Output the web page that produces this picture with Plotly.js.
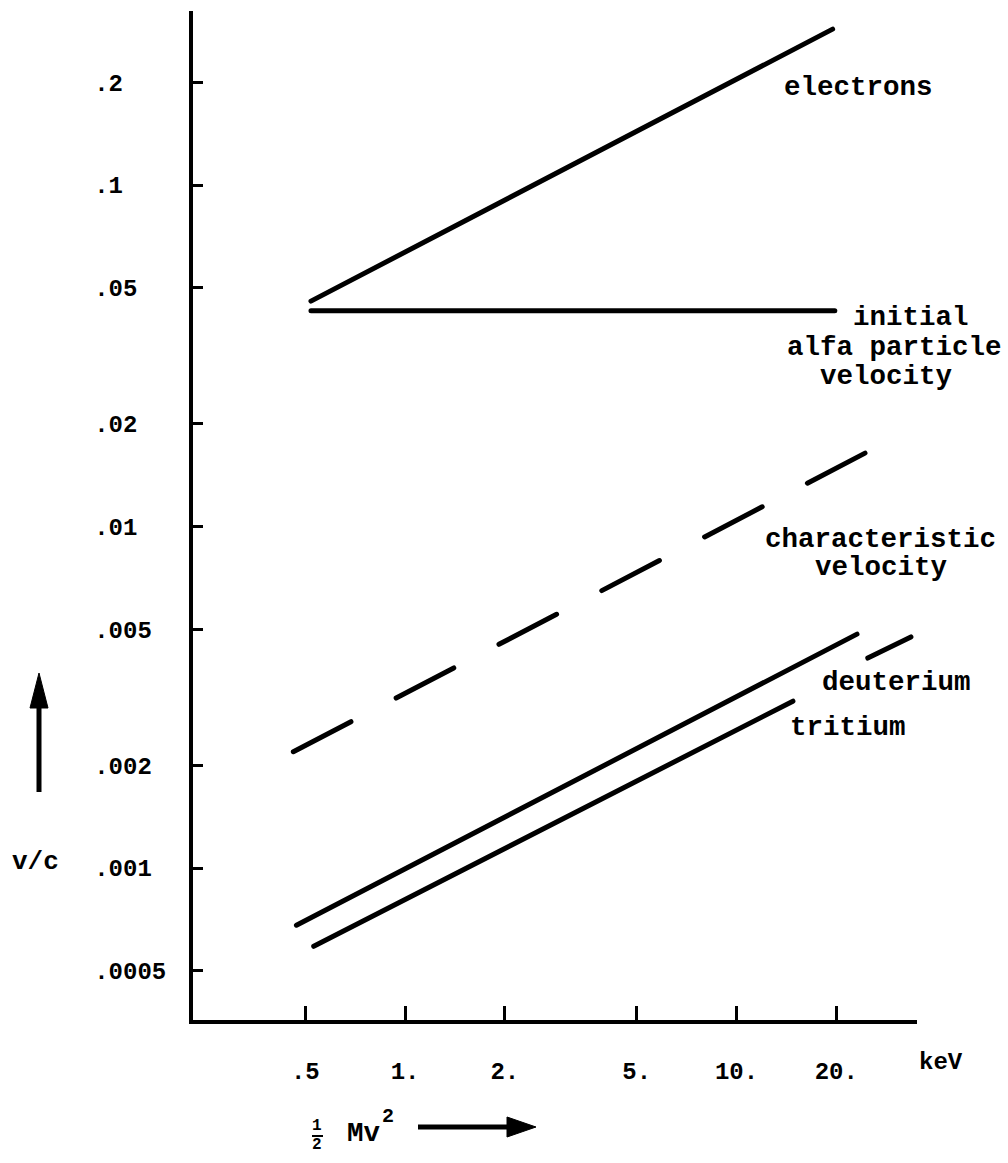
<!DOCTYPE html>
<html>
<head>
<meta charset="utf-8">
<script src="https://cdn.plot.ly/plotly-3.0.1.min.js"></script>
<style>
  html, body { margin: 0; padding: 0; background: #ffffff; }
  #chart { width: 1008px; height: 1163px; }
  #chart path.js-line { stroke-linecap: round; }
</style>
</head>
<body>
<div id="chart"></div>
<script>
// ---- data (x = 1/2 Mv^2 in keV, y = v/c) ----
const energyElectrons = [0.52, 19.5];
const vcElectrons = [0.0457, 0.286];

const energyAlpha = [0.52, 19.8];
const vcAlpha = [0.0428, 0.0428];

const energyCharacteristic = [0.46, 25.6];
const vcCharacteristic = [0.00219, 0.0168];

const energyDeuterium = [0.47, 23.1];
const vcDeuterium = [0.00068, 0.00484];

const energyTritium = [0.53, 14.8, null, 24.9, 33.6];
const vcTritium = [0.00059, 0.00308, null, 0.00412, 0.00475];

const yTickVals = [0.0005, 0.001, 0.002, 0.005, 0.01, 0.02, 0.05, 0.1, 0.2];
const yTickText = [".0005", ".001", ".002", ".005", ".01", ".02", ".05", ".1", ".2"];
const xTickVals = [0.5, 1, 2, 5, 10, 20];
const xTickText = [".5", "1.", "2.", "5.", "10.", "20."];

// ---- presentation ----
const FONT = '"Liberation Mono", "DejaVu Sans Mono", monospace';
const W = 1008, H = 1163;
const L = 193, R = 917, T = 11, B = 1020;       // plot area in pixels
const px = x => (x - L) / (R - L);
const py = y => (B - y) / (B - T);

const maxLen = Math.max(...yTickText.map(s => s.length));
const yTickTextPadded = yTickText.map(s => s + '\u00a0'.repeat(maxLen - s.length));

const lineStyle = { color: '#000000', width: 5 };
function trace(xs, ys, dash) {
  return { x: xs, y: ys, type: 'scatter', mode: 'lines', hoverinfo: 'skip',
           line: Object.assign({}, lineStyle, dash ? { dash: dash } : {}),
           connectgaps: false, showlegend: false };
}

const data = [
  trace(energyElectrons, vcElectrons),
  trace(energyAlpha, vcAlpha),
  trace(energyCharacteristic, vcCharacteristic, '65px,51px'),
  trace(energyDeuterium, vcDeuterium),
  trace(energyTritium, vcTritium)
];

function ann(text, x, y, size, xanchor) {
  return { text: text, xref: 'paper', yref: 'paper', x: px(x), y: py(y),
           xanchor: xanchor || 'left', yanchor: 'middle', showarrow: false,
           font: { family: FONT, size: size || 27.5, color: '#000', weight: 'bold' } };
}

const annotations = [
  ann('electrons', 782, 87),
  ann('initial', 851, 317),
  ann('alfa particle', 785, 347),
  ann('velocity', 818, 376),
  ann('characteristic', 763, 539),
  ann('velocity', 813, 568),
  ann('deuterium', 820, 682),
  ann('tritium', 788, 727),
  ann('keV', 917, 1062, 24),
  ann('v/c', 10, 862, 26),
  ann('1', 317, 1126, 16, 'center'),
  ann('2', 317, 1145, 16, 'center'),
  ann('Mv', 345, 1133, 27.5),
  ann('2', 388, 1116, 20, 'center')
];

function pathPx(points) {
  return 'M' + points.map(p => px(p[0]) + ',' + py(p[1])).join('L') + 'Z';
}
const shapes = [
  { type: 'line', xref: 'paper', yref: 'paper', x0: px(39), y0: py(792), x1: px(39), y1: py(700),
    line: { color: '#000', width: 5 } },
  { type: 'path', xref: 'paper', yref: 'paper', path: pathPx([[39, 673], [30, 708], [48, 708]]),
    fillcolor: '#000', line: { color: '#000', width: 1 } },
  { type: 'line', xref: 'paper', yref: 'paper', x0: px(418), y0: py(1127), x1: px(512), y1: py(1127),
    line: { color: '#000', width: 5 } },
  { type: 'path', xref: 'paper', yref: 'paper', path: pathPx([[536, 1127], [507, 1117], [507, 1137]]),
    fillcolor: '#000', line: { color: '#000', width: 1 } },
  { type: 'line', xref: 'paper', yref: 'paper', x0: px(312), y0: py(1136), x1: px(323), y1: py(1136),
    line: { color: '#000', width: 2 } }
];

const axisCommon = {
  type: 'log', tickmode: 'array', ticks: 'inside', tickwidth: 3, tickcolor: '#000',
  showline: true, linewidth: 4, linecolor: '#000', showgrid: false, zeroline: false,
  tickfont: { family: FONT, size: 24, color: '#000', weight: 'bold' }, fixedrange: true
};

const layout = {
  width: W, height: H,
  margin: { l: L, r: W - R, t: T, b: H - B, pad: 0 },
  paper_bgcolor: '#ffffff', plot_bgcolor: '#ffffff',
  showlegend: false,
  xaxis: Object.assign({}, axisCommon, {
    range: [(L - 405.1) / 331.4, (R - 405.1) / 331.4],
    tickvals: xTickVals, ticktext: xTickText, ticklen: 14, ticklabelstandoff: 26
  }),
  yaxis: Object.assign({}, axisCommon, {
    range: [-3.445, -0.4905],
    tickvals: yTickVals, ticktext: yTickTextPadded, ticklen: 10, ticklabelstandoff: 18
  }),
  annotations: annotations,
  shapes: shapes
};

Plotly.newPlot('chart', data, layout, { staticPlot: true, displayModeBar: false });
</script>
</body>
</html>
